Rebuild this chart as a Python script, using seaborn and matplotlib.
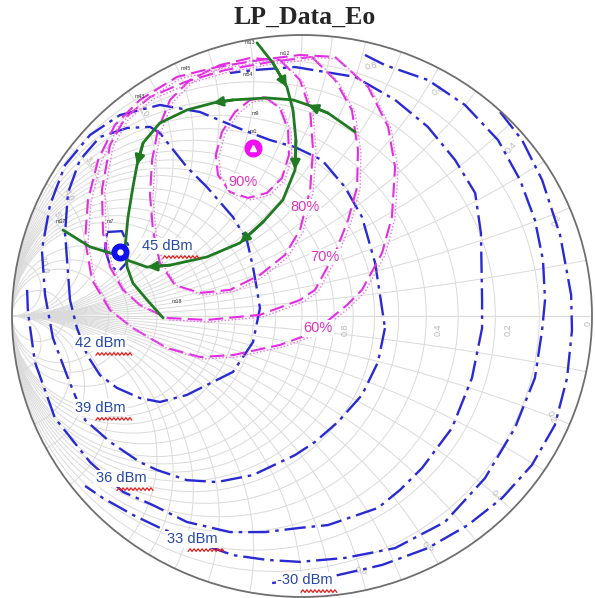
import numpy as np
import matplotlib
matplotlib.use("Agg")
import matplotlib.pyplot as plt
import seaborn as sns
from matplotlib.patches import Circle
from matplotlib.transforms import offset_copy, IdentityTransform

sns.set_theme(style="white")
plt.rcParams['font.family'] = ['Liberation Sans', 'DejaVu Sans']

# admittance chart grid (normalised g and b)
grid_vals = [0.1, 0.2, 0.3, 0.4, 0.5, 0.6, 0.7, 0.8, 0.9, 1.0,
             1.2, 1.4, 1.6, 1.8, 2.0, 3.0, 4.0, 5.0, 10.0]

# --- power contours, reflection coefficient (re, im) ---
p30_re = [0.683, 0.759, 0.828, 0.890, 0.928, 0.931, 0.914, 0.872, 0.793, 0.690,
          0.572, 0.434, 0.276, 0.124, -0.007, -0.103]
p30_im = [0.726, 0.626, 0.484, 0.288, 0.075, -0.050, -0.221, -0.388, -0.530, -0.648,
          -0.744, -0.826, -0.886, -0.922, -0.940, -0.950]

p33_re = [0.217, 0.286, 0.434, 0.562, 0.676, 0.752, 0.803, 0.831, 0.838, 0.828,
          0.803, 0.734, 0.631, 0.493, 0.321, 0.148, -0.007, -0.121, -0.238, -0.386,
          -0.490, -0.583, -0.686, -0.748]
p33_im = [0.929, 0.893, 0.840, 0.751, 0.626, 0.484, 0.342, 0.199, 0.057, -0.050,
          -0.221, -0.399, -0.577, -0.733, -0.826, -0.861, -0.875, -0.868, -0.851, -0.797,
          -0.754, -0.708, -0.648, -0.605]

p36_re = [-0.948, -0.945, -0.921, -0.852, -0.731, -0.617, -0.514, -0.397, -0.248, -0.128,
          -0.007, 0.090, 0.262, 0.338, 0.414, 0.517, 0.586, 0.621, 0.621, 0.617,
          0.597, 0.528, 0.434, 0.321, 0.183, -0.024, -0.169, -0.248]
p36_im = [0.093, 0.014, -0.164, -0.363, -0.520, -0.626, -0.673, -0.733, -0.769, -0.769,
          -0.754, -0.744, -0.683, -0.619, -0.541, -0.399, -0.221, -0.043, 0.057, 0.295,
          0.438, 0.555, 0.673, 0.769, 0.851, 0.886, 0.875, 0.865]

p39_re = [0.286, 0.262, 0.207, 0.124, 0.045, -0.024, -0.169, -0.293, -0.397, -0.500,
          -0.559, -0.662, -0.748, -0.807, -0.859, -0.886, -0.897, -0.869, -0.817, -0.731,
          -0.628, -0.490, -0.352, -0.203, -0.110, -0.024, 0.069, 0.148, 0.207, 0.252,
          0.269, 0.286]
p39_im = [-0.043, -0.164, -0.281, -0.377, -0.448, -0.495, -0.566, -0.591, -0.584, -0.548,
          -0.520, -0.448, -0.370, -0.221, -0.078, 0.075, 0.235, 0.395, 0.537, 0.644,
          0.715, 0.751, 0.726, 0.662, 0.626, 0.601, 0.555, 0.459, 0.352, 0.189,
          0.075, -0.043]

p42_re = [-0.800, -0.817, -0.807, -0.766, -0.697, -0.603, -0.524, -0.490, -0.397, -0.328,
          -0.238, -0.190, -0.169, -0.155, -0.145, -0.169, -0.238, -0.397, -0.490, -0.559,
          -0.638, -0.697, -0.741, -0.776, -0.800]
p42_im = [0.057, 0.295, 0.438, 0.555, 0.637, 0.669, 0.673, 0.651, 0.530, 0.459,
          0.352, 0.270, 0.174, 0.093, 0.028, -0.093, -0.199, -0.281, -0.306, -0.292,
          -0.256, -0.210, -0.139, -0.043, 0.057]

p45_re = [-0.672, -0.621, -0.600, -0.603, -0.634, -0.662, -0.679, -0.672]
p45_im = [0.299, 0.302, 0.253, 0.192, 0.157, 0.181, 0.235, 0.299]

power_contours = [(p30_re, p30_im), (p33_re, p33_im), (p36_re, p36_im),
                  (p39_re, p39_im), (p42_re, p42_im), (p45_re, p45_im)]
power_labels = ["-30 dBm", "33 dBm", "36 dBm", "39 dBm", "42 dBm", "45 dBm"]
power_lab_re = [0.010, -0.379, -0.624, -0.697, -0.697, -0.466]
power_lab_im = [-0.940, -0.794, -0.577, -0.327, -0.096, 0.249]

# --- drain efficiency contours ---
e90_re = [-0.128, -0.076, -0.048, -0.045, -0.069, -0.121, -0.186, -0.248, -0.290, -0.297,
          -0.276, -0.231, -0.179, -0.128]
e90_im = [0.779, 0.740, 0.662, 0.573, 0.491, 0.438, 0.420, 0.441, 0.502, 0.573,
          0.655, 0.726, 0.769, 0.779]

e80_re = [-0.076, -0.007, 0.028, 0.038, 0.028, -0.007, -0.059, -0.145, -0.248, -0.352,
          -0.438, -0.490, -0.514, -0.524, -0.517, -0.497, -0.455, -0.386, -0.283, -0.179,
          -0.076]
e80_im = [0.911, 0.840, 0.733, 0.591, 0.448, 0.306, 0.217, 0.146, 0.093, 0.082,
          0.110, 0.189, 0.306, 0.431, 0.555, 0.662, 0.769, 0.840, 0.893, 0.918,
          0.911]

e70_re = [0.034, 0.114, 0.172, 0.193, 0.190, 0.159, 0.114, 0.045, -0.007, -0.145,
          -0.328, -0.466, -0.559, -0.617, -0.662, -0.686, -0.690, -0.662, -0.610, -0.524,
          -0.403, -0.266, -0.110, 0.034]
e70_im = [0.922, 0.840, 0.733, 0.591, 0.459, 0.342, 0.224, 0.093, 0.057, 0.004,
          -0.014, -0.007, 0.039, 0.093, 0.174, 0.295, 0.448, 0.609, 0.705, 0.779,
          0.833, 0.875, 0.904, 0.922]

e60_re = [0.114, 0.228, 0.297, 0.321, 0.310, 0.276, 0.207, 0.155, 0.038, -0.076,
          -0.238, -0.352, -0.466, -0.583, -0.662, -0.724, -0.748, -0.738, -0.703, -0.645,
          -0.559, -0.431, -0.293, -0.145, -0.007, 0.114]
e60_im = [0.922, 0.815, 0.673, 0.530, 0.352, 0.224, 0.093, 0.039, -0.060, -0.103,
          -0.139, -0.146, -0.114, -0.043, 0.021, 0.128, 0.270, 0.413, 0.555, 0.680,
          0.769, 0.851, 0.886, 0.911, 0.929, 0.922]

eff_contours = [(e90_re, e90_im), (e80_re, e80_im), (e70_re, e70_im), (e60_re, e60_im)]
eff_labels = ["90%", "80%", "70%", "60%"]
eff_lab_re = [-0.203, 0.010, 0.079, 0.055]
eff_lab_im = [0.477, 0.388, 0.210, -0.043]

# --- load-pull trajectories ---
g1_re = [-0.155, -0.100, -0.052, -0.031, -0.021, -0.024, -0.066, -0.134, -0.214, -0.328,
         -0.455, -0.534, -0.603, -0.628]
g1_im = [0.972, 0.900, 0.815, 0.733, 0.626, 0.520, 0.413, 0.335, 0.260, 0.210,
         0.181, 0.174, 0.199, 0.217]
g1_arrows = [2, 5, 8, 11]

g2_re = [0.183, 0.090, 0.021, -0.031, -0.121, -0.238, -0.307, -0.397, -0.490, -0.548,
         -0.569, -0.583, -0.600, -0.610, -0.603, -0.583, -0.534, -0.479]
g2_im = [0.655, 0.722, 0.751, 0.769, 0.776, 0.769, 0.758, 0.733, 0.687, 0.616,
         0.537, 0.459, 0.352, 0.246, 0.174, 0.117, 0.057, -0.007]
g2_arrows = [2, 6, 10]

g3_re = [-0.824, -0.731, -0.628]
g3_im = [0.306, 0.246, 0.214]

# optimum points
pout_opt = (-0.628, 0.228)
eff_opt = (-0.169, 0.598)

# small marker tags
tag_text = ["m13", "m12", "m54", "m1", "m7", "m18", "m17", "m43", "m45", "m9"]
tag_re = [-0.180, -0.060, -0.186, -0.169, -0.660, -0.430, -0.830, -0.560, -0.400, -0.160]
tag_im = [0.972, 0.935, 0.858, 0.655, 0.335, 0.050, 0.335, 0.780, 0.880, 0.720]

# rim / axis labels of the chart
rim_text = ["2.0", "3.0", "4.0", "5.0", "10.0",
            "0.8", "0.4", "0.2", "0",
            "0.2", "0.4", "0.6", "0.8",
            "0.2", "0.4", "0.6", "0.8"]
rim_re = [-0.546, -0.728, -0.803, -0.840, -0.892,
          0.148, 0.469, 0.710, 0.986,
          0.859, 0.673, 0.437, 0.204,
          0.880, 0.720, 0.470, 0.240]
rim_im = [0.728, 0.546, 0.428, 0.350, 0.180,
          -0.050, -0.050, -0.050, -0.028,
          -0.357, -0.641, -0.821, -0.907,
          0.340, 0.600, 0.800, 0.890]
rim_rot = [-53, -53, -62, -67, -78,
           90, 90, 90, 90,
           -67, -46, -28, -13,
           67, 46, 28, 13]

BLUE = "#2a2ad2"
MAGENTA = "#e22ee0"
GREEN = "#1f7a22"
GRID = "#dadada"

fig = plt.figure(figsize=(5.95, 5.98), dpi=100)
ax = fig.add_axes([12 / 595, 1 / 598, 580 / 595, 562 / 598])
ax.set_xlim(-1, 1)
ax.set_ylim(-1, 1)
ax.axis("off")

unit = Circle((0, 0), 1, transform=ax.transData)

# Smith (Y) chart grid
for v in grid_vals:
    c = Circle((-v / (1 + v), 0), 1 / (1 + v), fill=False, ec=GRID, lw=0.7, zorder=1)
    ax.add_patch(c)
    c.set_clip_path(unit)
    for s in (1, -1):
        a = Circle((-1, s / v), 1 / v, fill=False, ec=GRID, lw=0.7, zorder=1)
        ax.add_patch(a)
        a.set_clip_path(unit)
ax.plot([-1, 1], [0, 0], color=GRID, lw=0.8, zorder=1)
ax.add_patch(Circle((0, 0), 1, fill=False, ec="#6e6e6e", lw=1.3, zorder=6, clip_on=False))

for t, x, y, r in zip(rim_text, rim_re, rim_im, rim_rot):
    ax.text(x, y, t, fontsize=6.5, color="#b8b8b8", rotation=r,
            ha="center", va="center", zorder=1)

# power contours
for re, im in power_contours:
    sns.lineplot(x=re, y=im, sort=False, estimator=None, ax=ax, color=BLUE,
                 lw=1.7, linestyle=(0, (9, 2.5, 1.5, 2.5)), legend=False, zorder=2)

# efficiency contours: dashed line plus dotted companion
dot_tr = offset_copy(ax.transData, fig=fig, x=3, y=-2, units="dots")
for re, im in eff_contours:
    sns.lineplot(x=re, y=im, sort=False, estimator=None, ax=ax, color=MAGENTA,
                 lw=1.5, linestyle=(0, (7, 3)), legend=False, zorder=2)
    ax.plot(re, im, color="#e873e6", lw=1.0, linestyle=(0, (1, 1.5)),
            transform=dot_tr, zorder=2)

# trajectories with arrow heads
for re, im, arrows in [(g1_re, g1_im, g1_arrows), (g2_re, g2_im, g2_arrows),
                       (g3_re, g3_im, [])]:
    sns.lineplot(x=re, y=im, sort=False, estimator=None, ax=ax, color=GREEN,
                 lw=2.0, legend=False, zorder=3)
    for i in arrows:
        ax.annotate("", xy=(re[i], im[i]), xytext=(re[i - 1], im[i - 1]),
                    arrowprops=dict(arrowstyle="-|>", color=GREEN, lw=2.0,
                                    mutation_scale=14, shrinkA=0, shrinkB=0),
                    zorder=3)

for t, x, y in zip(tag_text, tag_re, tag_im):
    ax.text(x, y, t, fontsize=3.8, color="#333333", ha="center", va="center", zorder=3)

# red spell-check squiggle drawn in pixel units under the "dBm" part
wave_x = np.arange(0, 37, 2.0)
wave_y = np.where(np.arange(len(wave_x)) % 2 == 0, -1.3, 1.3)

for t, x, y in zip(power_labels, power_lab_re, power_lab_im):
    ax.text(x, y, t, fontsize=10.5, color="#2747a6", ha="center", va="center", zorder=4,
            bbox=dict(fc="white", ec="none", pad=1.0))
    px, py = ax.transData.transform((x, y))
    ax.plot(px - 4 + wave_x, py - 11 + wave_y, color="#e41e1e", lw=0.9,
            transform=IdentityTransform(), zorder=5, clip_on=False)
for t, x, y in zip(eff_labels, eff_lab_re, eff_lab_im):
    ax.text(x, y, t, fontsize=10.5, color="#e033c0", ha="center", va="center", zorder=4,
            bbox=dict(fc="white", ec="none", pad=1.0))

# optimum markers
ax.plot(*pout_opt, "o", ms=12, color="#1010f0", zorder=5)
ax.plot(*pout_opt, "o", ms=3.5, color="white", zorder=5)
ax.plot(*eff_opt, "o", ms=12, color="#f010f0", zorder=5)
ax.plot(*eff_opt, "^", ms=4.5, color="white", zorder=5)

fig.text(305 / 595, 1 - 17 / 598, "LP_Data_Eo", family=["Liberation Serif", "DejaVu Serif"],
         fontweight="bold", fontsize=18.5, ha="center", va="center")

fig.savefig("out.png", dpi=100, facecolor="white")
